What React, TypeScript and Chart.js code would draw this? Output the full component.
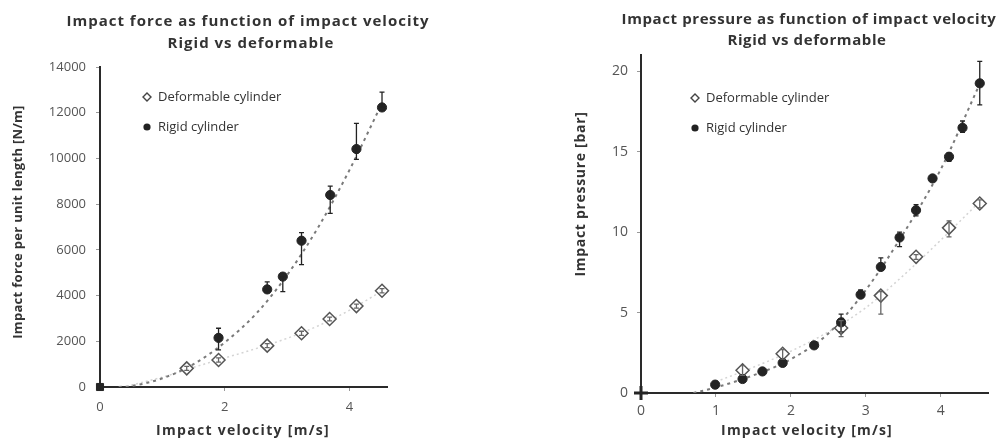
import React, { useEffect, useRef } from 'react';
import { Chart, registerables } from 'chart.js';
Chart.register(...registerables);

const FONT = "'Open Sans', 'DejaVu Sans', sans-serif";
const TXT = '#333333';
const TICK = '#555555';

// ---------- Left chart: impact force ----------
const forceTitle = ['Impact force as function of impact velocity', 'Rigid vs deformable'];
const forceXLabel = 'Impact velocity [m/s]';
const forceYLabel = 'Impact force per unit length [N/m]';
const forceXTicks = [0, 2, 4];
const forceYTicks = [0, 2000, 4000, 6000, 8000, 10000, 12000, 14000];
const forceDefX = [1.39, 1.9, 2.68, 3.23, 3.68, 4.11, 4.52];
const forceDefY = [816, 1180, 1810, 2350, 2975, 3540, 4210];
const forceDefLow = [730, 1090, 1720, 2260, 2890, 3450, 4120];
const forceDefHigh = [900, 1270, 1900, 2440, 3060, 3630, 4300];
const forceRigidX = [0, 1.9, 2.68, 2.93, 3.23, 3.69, 4.11, 4.52];
const forceRigidY = [0, 2150, 4270, 4830, 6400, 8400, 10410, 12230];
const forceRigidLow = [0, 1620, 4270, 4170, 5350, 7600, 9960, 12230];
const forceRigidHigh = [0, 2570, 4600, 4830, 6750, 8790, 11530, 12900];
const forceRigidTrendX = [0.3, 0.5, 1, 1.5, 2, 2.5, 3, 3.5, 4, 4.5];
const forceRigidTrendY = [0, 40, 380, 1000, 1950, 3200, 4900, 7000, 9500, 12300];
const forceDefTrendX = [0.5, 1, 1.5, 2, 2.5, 3, 3.5, 4, 4.5];
const forceDefTrendY = [80, 430, 860, 1270, 1680, 2130, 2680, 3360, 4170];

// ---------- Right chart: impact pressure ----------
const pressTitle = ['Impact pressure as function of impact velocity', 'Rigid vs deformable'];
const pressXLabel = 'Impact velocity [m/s]';
const pressYLabel = 'Impact pressure [bar]';
const pressXTicks = [0, 1, 2, 3, 4];
const pressYTicks = [0, 5, 10, 15, 20];
const pressDefX = [1.355, 1.89, 2.67, 3.2, 3.67, 4.11, 4.52];
const pressDefY = [1.41, 2.44, 4.04, 6.05, 8.46, 10.26, 11.77];
const pressDefLow = [1.1, 2.1, 3.5, 4.9, 8.3, 9.7, 11.5];
const pressDefHigh = [1.7, 2.7, 4.5, 6.3, 8.6, 10.7, 12.0];
const pressRigidX = [0, 0.99, 1.355, 1.62, 1.89, 2.31, 2.67, 2.93, 3.2, 3.45, 3.67, 3.89, 4.11, 4.29, 4.52];
const pressRigidY = [0, 0.52, 0.87, 1.34, 1.87, 2.96, 4.39, 6.11, 7.83, 9.66, 11.36, 13.33, 14.68, 16.48, 19.24];
const pressRigidLow = [0, 0.52, 0.87, 1.34, 1.87, 2.96, 3.8, 6.11, 7.83, 9.1, 11.0, 13.33, 14.4, 16.2, 17.9];
const pressRigidHigh = [0, 0.52, 0.87, 1.34, 1.87, 2.96, 4.9, 6.4, 8.4, 10.0, 11.7, 13.33, 14.9, 16.9, 20.6];
const pressRigidTrendX = [0.7, 1, 1.5, 2, 2.5, 3, 3.5, 4, 4.5];
const pressRigidTrendY = [0, 0.35, 1.1, 2.1, 3.7, 6.4, 9.9, 13.9, 19.0];
const pressDefTrendX = [1, 1.5, 2, 2.5, 3, 3.5, 4, 4.5];
const pressDefTrendY = [0.7, 1.6, 2.6, 3.8, 5.3, 7.3, 9.5, 11.8];

const legendLabels = ['Deformable cylinder', 'Rigid cylinder'];

const zip = (xs: number[], ys: number[]) => xs.map((x, i) => ({ x, y: ys[i] }));

function errorBarPlugin(sets: { x: number[]; low: number[]; high: number[]; color: string }[]) {
  return {
    id: 'errorBarsCustom',
    afterDatasetsDraw(chart: any) {
      const { ctx, scales } = chart;
      const xs = scales.x, ys = scales.y;
      sets.forEach((set) => {
        ctx.save();
        ctx.strokeStyle = set.color;
        ctx.lineWidth = 1.3;
        set.x.forEach((xv, i) => {
          const lo = set.low[i], hi = set.high[i];
          if (lo === hi) return;
          const px = xs.getPixelForValue(xv);
          const pl = ys.getPixelForValue(lo);
          const ph = ys.getPixelForValue(hi);
          ctx.beginPath();
          ctx.moveTo(px, pl); ctx.lineTo(px, ph);
          ctx.moveTo(px - 2.5, pl); ctx.lineTo(px + 2.5, pl);
          ctx.moveTo(px - 2.5, ph); ctx.lineTo(px + 2.5, ph);
          ctx.stroke();
        });
        ctx.restore();
      });
    },
  };
}

function legendPlugin(x: number, y: number, gap: number) {
  return {
    id: 'legendCustom',
    afterDraw(chart: any) {
      const { ctx } = chart;
      ctx.save();
      ctx.strokeStyle = '#444';
      ctx.lineWidth = 1.4;
      ctx.fillStyle = '#fff';
      ctx.beginPath();
      ctx.moveTo(x, y - 4); ctx.lineTo(x + 4, y); ctx.lineTo(x, y + 4); ctx.lineTo(x - 4, y); ctx.closePath();
      ctx.fill(); ctx.stroke();
      ctx.fillStyle = '#222';
      ctx.beginPath();
      ctx.arc(x, y + gap, 3.6, 0, Math.PI * 2);
      ctx.fill();
      ctx.fillStyle = TXT;
      ctx.font = `13px ${FONT}`;
      ctx.textBaseline = 'middle';
      ctx.textAlign = 'left';
      ctx.fillText(legendLabels[0], x + 11, y);
      ctx.fillText(legendLabels[1], x + 11, y + gap);
      ctx.restore();
    },
  };
}

type Cfg = {
  width: number;
  xMax: number; yMax: number;
  xTicks: number[]; yTicks: number[];
  yWidth: number; xHeight: number;
  padTop: number; padRight: number;
  defX: number[]; defY: number[]; defLow: number[]; defHigh: number[];
  rigX: number[]; rigY: number[]; rigLow: number[]; rigHigh: number[];
  rtX: number[]; rtY: number[]; dtX: number[]; dtY: number[];
  originStyle: string; originRadius: number; originWidth: number;
  tickSize: number; xTickPad: number; yTickPad: number;
  legendX: number; legendY: number;
};

function ScatterPanel({ cfg }: { cfg: Cfg }) {
  const ref = useRef<HTMLCanvasElement>(null);
  useEffect(() => {
    const c = cfg;
    const chart = new Chart(ref.current as HTMLCanvasElement, {
      type: 'scatter',
      data: {
        datasets: [
          {
            label: legendLabels[1],
            data: zip(c.rigX, c.rigY),
            clip: false,
            pointStyle: c.rigX.map((_, i) => (i === 0 ? c.originStyle : 'circle')) as any,
            pointRadius: c.rigX.map((_, i) => (i === 0 ? c.originRadius : 4.6)) as any,
            backgroundColor: '#242424',
            borderColor: '#242424',
            borderWidth: c.rigX.map((_, i) => (i === 0 ? c.originWidth : 1)) as any,
          },
          {
            label: legendLabels[0],
            data: zip(c.defX, c.defY),
            clip: false,
            pointStyle: 'rectRot',
            pointRadius: 6.5,
            backgroundColor: '#ffffff',
            borderColor: '#555555',
            borderWidth: 1.5,
          },
          {
            label: 'rigid trend',
            data: zip(c.rtX, c.rtY),
            showLine: true,
            pointRadius: 0,
            borderColor: '#7a7a7a',
            borderWidth: 2,
            borderDash: [3, 4],
            cubicInterpolationMode: 'monotone',
          },
          {
            label: 'deformable trend',
            data: zip(c.dtX, c.dtY),
            showLine: true,
            pointRadius: 0,
            borderColor: '#d4d4d4',
            borderWidth: 1.5,
            borderDash: [2, 3],
            cubicInterpolationMode: 'monotone',
          },
        ] as any,
      },
      options: {
        animation: false,
        responsive: false,
        devicePixelRatio: 1,
        layout: { padding: { top: c.padTop, right: c.padRight, bottom: 0, left: 0 } },
        plugins: { legend: { display: false }, tooltip: { enabled: false }, title: { display: false } },
        scales: {
          x: {
            type: 'linear',
            min: 0,
            max: c.xMax,
            afterBuildTicks: (s: any) => { s.ticks = c.xTicks.map((v) => ({ value: v })); },
            afterFit: (s: any) => { s.height = c.xHeight; },
            grid: { display: true, drawOnChartArea: false, drawTicks: true, tickLength: 4, color: '#999' },
            border: { display: true, color: '#2a2a2a', width: 2 },
            ticks: { padding: c.xTickPad, color: TICK, font: { family: FONT, size: c.tickSize }, callback: (v: any) => String(v) },
          },
          y: {
            type: 'linear',
            min: 0,
            max: c.yMax,
            afterBuildTicks: (s: any) => { s.ticks = c.yTicks.map((v) => ({ value: v })); },
            afterFit: (s: any) => { s.width = c.yWidth; },
            grid: { display: true, drawOnChartArea: false, drawTicks: true, tickLength: 4, color: '#999' },
            border: { display: true, color: '#2a2a2a', width: 2 },
            ticks: { padding: c.yTickPad, color: TICK, font: { family: FONT, size: c.tickSize }, callback: (v: any) => String(v) },
          },
        } as any,
      },
      plugins: [
        errorBarPlugin([
          { x: c.rigX, low: c.rigLow, high: c.rigHigh, color: '#222' },
          { x: c.defX, low: c.defLow, high: c.defHigh, color: '#666' },
        ]),
        legendPlugin(c.legendX, c.legendY, 30),
      ] as any,
    });
    return () => chart.destroy();
  }, [cfg]);
  return <canvas ref={ref} width={cfg.width} height={441} />;
}

const leftCfg: Cfg = {
  width: 520, xMax: 4.6, yMax: 14000, xTicks: forceXTicks, yTicks: forceYTicks,
  yWidth: 100, xHeight: 54, padTop: 67, padRight: 520 - 387,
  defX: forceDefX, defY: forceDefY, defLow: forceDefLow, defHigh: forceDefHigh,
  rigX: forceRigidX, rigY: forceRigidY, rigLow: forceRigidLow, rigHigh: forceRigidHigh,
  rtX: forceRigidTrendX, rtY: forceRigidTrendY, dtX: forceDefTrendX, dtY: forceDefTrendY,
  originStyle: 'rect', originRadius: 5, originWidth: 1,
  tickSize: 13, xTickPad: 8, yTickPad: 10,
  legendX: 147, legendY: 97,
};

const rightCfg: Cfg = {
  width: 478, xMax: 4.63, yMax: 21, xTicks: pressXTicks, yTicks: pressYTicks,
  yWidth: 121, xHeight: 48, padTop: 55, padRight: 0,
  defX: pressDefX, defY: pressDefY, defLow: pressDefLow, defHigh: pressDefHigh,
  rigX: pressRigidX, rigY: pressRigidY, rigLow: pressRigidLow, rigHigh: pressRigidHigh,
  rtX: pressRigidTrendX, rtY: pressRigidTrendY, dtX: pressDefTrendX, dtY: pressDefTrendY,
  originStyle: 'cross', originRadius: 7, originWidth: 3,
  tickSize: 14, xTickPad: 6, yTickPad: 9,
  legendX: 175, legendY: 98,
};

const textStyle = (cx: number, cy: number, size: number, spacing: number, rotate = false): React.CSSProperties => ({
  position: 'absolute', left: cx - 300, top: cy - 10, width: 600, height: 20, lineHeight: '20px',
  textAlign: 'center', font: `bold ${size}px ${FONT}`, letterSpacing: `${spacing}px`, color: TXT, whiteSpace: 'nowrap',
  transform: rotate ? 'rotate(-90deg)' : undefined,
});

export default function App() {
  return (
    <div style={{ position: 'absolute', left: 0, top: 0, width: 998, height: 441, background: '#fff', overflow: 'hidden' }}>
      <div style={{ position: 'absolute', left: 0, top: 0 }}>
        <ScatterPanel cfg={leftCfg} />
      </div>
      <div style={{ position: 'absolute', left: 520, top: 0 }}>
        <ScatterPanel cfg={rightCfg} />
      </div>
      <div style={textStyle(248, 20, 15, 1)}>{forceTitle[0]}</div>
      <div style={textStyle(251, 42, 15, 1)}>{forceTitle[1]}</div>
      <div style={textStyle(243, 430, 14, 1.3)}>{forceXLabel}</div>
      <div style={textStyle(18, 222, 13, 0.3, true)}>{forceYLabel}</div>
      <div style={textStyle(809, 18, 15, 0.6)}>{pressTitle[0]}</div>
      <div style={textStyle(807, 39, 15, 0.6)}>{pressTitle[1]}</div>
      <div style={textStyle(807, 430, 14, 1.2)}>{pressXLabel}</div>
      <div style={textStyle(580, 194, 14, 0.7, true)}>{pressYLabel}</div>
    </div>
  );
}
